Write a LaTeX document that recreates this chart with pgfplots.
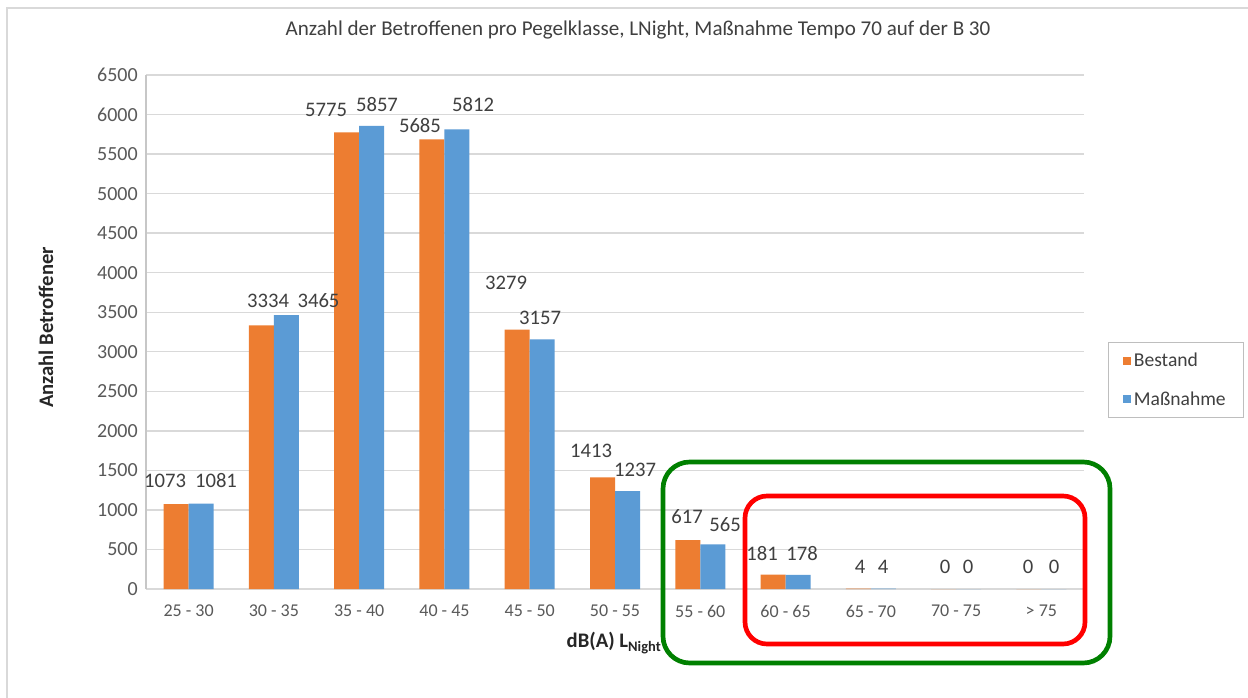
\documentclass[border=0pt]{standalone}
\usepackage{pgfplots}
\usepackage{pgfplotstable}
\pgfplotsset{compat=1.18}
\usepackage{fontspec}
\setmainfont{Carlito}
\definecolor{cOrange}{HTML}{ED7D31}
\definecolor{cBlue}{HTML}{5B9BD5}
\definecolor{cGrid}{HTML}{D9D9D9}
\definecolor{cTick}{HTML}{595959}
\definecolor{cLabel}{HTML}{404040}
\definecolor{cGreen}{HTML}{008000}

\pgfplotstableread{
x y
0 1073
1 3334
2 5775
3 5685
4 3279
5 1413
6 617
7 181
8 4
9 0
10 0
}\bestand
\pgfplotstableread{
x y
0 1081
1 3465
2 5857
3 5812
4 3157
5 1237
6 565
7 178
8 4
9 0
10 0
}\massnahme
\pgfplotstableread{
x y label
-0.277 1366 1073
0.321 1366 1081
0.931 3650 3334
1.523 3650 3465
1.611 6057 5775
2.209 6133 5857
2.713 5867 5685
3.335 6133 5812
3.722 3870 3279
4.121 3427 3157
4.719 1745 1413
5.235 1505 1237
5.845 910 617
6.290 809 565
6.724 455 181
7.193 455 178
7.873 278 4
8.143 278 4
8.870 278 0
9.140 278 0
9.844 278 0
10.148 278 0
}\labels

\begin{document}
\begin{tikzpicture}
\begin{scope}[x=0.75pt,y=-0.75pt]
\useasboundingbox (0,0) rectangle (1248,698);
\fill[white] (0,0) rectangle (1248,698);
\draw[cGrid, line width=1.5pt] (7,8) rectangle (1300,760);
\end{scope}
\begin{axis}[
  at={(109.5pt,-441.75pt)}, anchor=south west,
  scale only axis, width=703.5pt, height=385.5pt,
  xmin=-0.5, xmax=10.5, ymin=0, ymax=6500,
  axis x line*=bottom, axis y line*=left,
  x axis line style={draw=cGrid, line width=1pt},
  y axis line style={draw=cGrid!80!gray, line width=1pt},
  major tick length=0pt,
  xtick={0,...,10},
  xticklabels={25 - 30,30 - 35,35 - 40,40 - 45,45 - 50,50 - 55,55 - 60,60 - 65,65 - 70,70 - 75,> 75},
  ytick={0,500,...,6500},
  yticklabels={0,500,1000,1500,2000,2500,3000,3500,4000,4500,5000,5500,6000,6500},
  xticklabel style={font=\fontsize{13.5}{16}\selectfont, text=cTick, anchor=center, inner sep=0pt, yshift=-16.5pt},
  yticklabel style={font=\fontsize{15}{18}\selectfont, text=cTick, anchor=east, inner sep=0pt, xshift=-6pt},
  ymajorgrids, grid style={draw=cGrid, line width=1pt},
  title={Anzahl der Betroffenen pro Pegelklasse, LNight, Maßnahme Tempo 70 auf der B 30},
  title style={at={(axis description cs:0.5245,1.072)}, anchor=center, font=\fontsize{15.8}{19}\selectfont, text=cLabel},
  ylabel={\textbf{Anzahl Betroffener}},
  ylabel style={at={(axis description cs:-0.1066,0.509)}, anchor=center, rotate=0, font=\fontsize{15.5}{18}\selectfont, text=black!85},
  xlabel={\textbf{dB(A) L\textsubscript{Night}}},
  xlabel style={at={(axis description cs:0.499,-0.105)}, anchor=center, font=\fontsize{15.5}{18}\selectfont, text=black!85},
  legend style={at={(rel axis cs:1.0256,0.4805)}, anchor=north west, draw=cGrid!70!gray, line width=0.75pt,
    font=\fontsize{14.7}{17}\selectfont, text=cLabel, inner xsep=11pt, inner ysep=6pt, row sep=13pt},
  legend cell align=left,
  clip=false,
]
\addplot[ybar, bar width=18.75pt, bar shift=-9.375pt, fill=cOrange, draw=none,
  legend image code/.code={\fill[cOrange] (0pt,-3pt) rectangle (6pt,3pt);}] table[x=x,y=y] {\bestand};
\addlegendentry{Bestand}
\addplot[ybar, bar width=18.75pt, bar shift=9.375pt, fill=cBlue, draw=none,
  legend image code/.code={\fill[cBlue] (0pt,-3pt) rectangle (6pt,3pt);}] table[x=x,y=y] {\massnahme};
\addlegendentry{Maßnahme}
\addplot[forget plot, draw=none, mark=none, nodes near coords, point meta=explicit symbolic,
  every node near coord/.append style={anchor=center, inner sep=0pt, text=cLabel, font=\fontsize{15.5}{18}\selectfont}]
  table[x=x,y=y,meta=label] {\labels};
\end{axis}
\begin{scope}[x=0.75pt,y=-0.75pt]
\draw[cGreen, line width=3.5pt, rounded corners=20pt] (663,462) rectangle (1110,663);
\draw[red, line width=3.5pt, rounded corners=16.5pt] (745,496) rectangle (1085,644);
\end{scope}
\end{tikzpicture}
\end{document}
